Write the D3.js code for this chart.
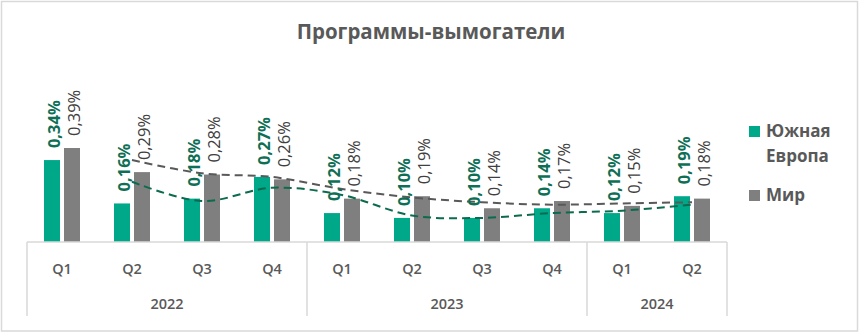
<!DOCTYPE html>
<html>
<head>
<meta charset="utf-8">
<script src="https://cdn.jsdelivr.net/npm/d3@7"></script>
<style>
  html, body { margin: 0; padding: 0; background: #fff; }
  svg { display: block; }
  text { font-family: "Open Sans", "Noto Sans", sans-serif; }
</style>
</head>
<body>
<svg id="chart" width="861" height="333"></svg>
<script>
// Quarterly share of ransomware, %
const quarters = ["Q1", "Q2", "Q3", "Q4", "Q1", "Q2", "Q3", "Q4", "Q1", "Q2"];
const years = [
  { label: "2022", from: 0, to: 4 },
  { label: "2023", from: 4, to: 8 },
  { label: "2024", from: 8, to: 10 }
];
const southEurope = [0.34, 0.16, 0.18, 0.27, 0.12, 0.10, 0.10, 0.14, 0.12, 0.19];
const world       = [0.39, 0.29, 0.28, 0.26, 0.18, 0.19, 0.14, 0.17, 0.15, 0.18];
const seriesNames = ["Южная Европа", "Мир"];

const colors = {
  se: "#00A88A",
  world: "#7F7F7F",
  seLabel: "#0E6F55",
  worldLabel: "#404040",
  seTrend: "#0B6B4F",
  worldTrend: "#595959",
  text: "#595959",
  grid: "#D9D9D9"
};

const svg = d3.select("#chart");

// chart border
svg.append("rect")
  .attr("x", 1.5).attr("y", 1.5)
  .attr("width", 856).attr("height", 329.5)
  .attr("fill", "#fff")
  .attr("stroke", colors.grid).attr("stroke-width", 1.5);

// title
svg.append("text")
  .attr("x", 431).attr("y", 39)
  .attr("text-anchor", "middle")
  .attr("font-size", 20.5).attr("font-weight", 700)
  .attr("fill", colors.text)
  .text("Программы-вымогатели");

const plotLeft = 27, plotRight = 727, baseY = 242;

const x0 = d3.scaleBand()
  .domain(d3.range(quarters.length))
  .range([plotLeft, plotRight])
  .padding(0);
const bw = x0.bandwidth();
const x1 = d3.scaleBand()
  .domain(["se", "world"])
  .range([bw / 2 - 18, bw / 2 + 18])
  .paddingInner(0.2);

const y = d3.scaleLinear()
  .domain([0, 0.6])
  .range([baseY, baseY - 0.6 * 241]);

const fmt = v => d3.format(".2f")(v).replace(".", ",") + "%";

// bars
const series = [
  { key: "se", values: southEurope, fill: colors.se },
  { key: "world", values: world, fill: colors.world }
];
series.forEach(s => {
  svg.append("g").selectAll("rect")
    .data(s.values)
    .join("rect")
    .attr("x", (d, i) => x0(i) + x1(s.key))
    .attr("y", d => y(d))
    .attr("width", x1.bandwidth())
    .attr("height", d => baseY - y(d))
    .attr("fill", s.fill);
});

// two-period moving average trendlines
function movingAvg(vals) {
  return vals.slice(1).map((v, i) => ({ i: i + 1, v: (vals[i] + v) / 2 }));
}
const trendLine = d3.line()
  .x(d => x0(d.i) + bw / 2)
  .y(d => y(d.v))
  .curve(d3.curveCatmullRom.alpha(0.5));

[
  { vals: world, color: colors.worldTrend },
  { vals: southEurope, color: colors.seTrend }
].forEach(t => {
  svg.append("path")
    .attr("d", trendLine(movingAvg(t.vals)))
    .attr("fill", "none")
    .attr("stroke", t.color)
    .attr("stroke-width", 2)
    .attr("stroke-dasharray", "8,5");
});

// rotated value labels
function addLabels(s, color, weight, size) {
  svg.append("g").selectAll("text")
    .data(s.values)
    .join("text")
    .attr("transform", (d, i) => {
      const cx = x0(i) + x1(s.key) + x1.bandwidth() / 2;
      return `translate(${cx + 1},${y(d) - 12}) rotate(-90)`;
    })
    .attr("dominant-baseline", "central")
    .attr("font-size", size)
    .attr("font-weight", weight)
    .attr("fill", color)
    .text(d => fmt(d));
}
addLabels(series[0], colors.seLabel, 700, 16.5);
addLabels(series[1], colors.worldLabel, 400, 16.5);

// category axis
const axis = svg.append("g").attr("stroke", colors.grid).attr("stroke-width", 1.5);
axis.append("line")
  .attr("x1", plotLeft).attr("x2", plotRight)
  .attr("y1", baseY).attr("y2", baseY);
const dividers = [0, ...years.map(yr => yr.to)];
axis.selectAll("line.div")
  .data(dividers)
  .join("line")
  .attr("class", "div")
  .attr("x1", d => d === quarters.length ? plotRight : x0(d))
  .attr("x2", d => d === quarters.length ? plotRight : x0(d))
  .attr("y1", baseY).attr("y2", 316);

svg.append("g").selectAll("text")
  .data(quarters)
  .join("text")
  .attr("x", (d, i) => x0(i) + bw / 2)
  .attr("y", 274)
  .attr("text-anchor", "middle")
  .attr("font-size", 14.5).attr("font-weight", 600)
  .attr("fill", colors.text)
  .text(d => d);

svg.append("g").selectAll("text")
  .data(years)
  .join("text")
  .attr("x", d => (x0(d.from) + (d.to === quarters.length ? plotRight : x0(d.to))) / 2)
  .attr("y", 309)
  .attr("text-anchor", "middle")
  .attr("font-size", 14.5).attr("font-weight", 600)
  .attr("fill", colors.text)
  .text(d => d.label);

// legend
const legend = svg.append("g").attr("transform", "translate(749,0)");
const legendItems = [
  { lines: ["Южная", "Европа"], color: colors.se, y: 137 },
  { lines: ["Мир"], color: colors.world, y: 201 }
];
legendItems.forEach(it => {
  legend.append("rect")
    .attr("x", 0).attr("y", it.y - 11)
    .attr("width", 11).attr("height", 11)
    .attr("fill", it.color);
  it.lines.forEach((ln, k) => {
    legend.append("text")
      .attr("x", 17).attr("y", it.y + k * 25)
      .attr("font-size", 17).attr("font-weight", 700)
      .attr("fill", colors.text)
      .text(ln);
  });
});
</script>
</body>
</html>
